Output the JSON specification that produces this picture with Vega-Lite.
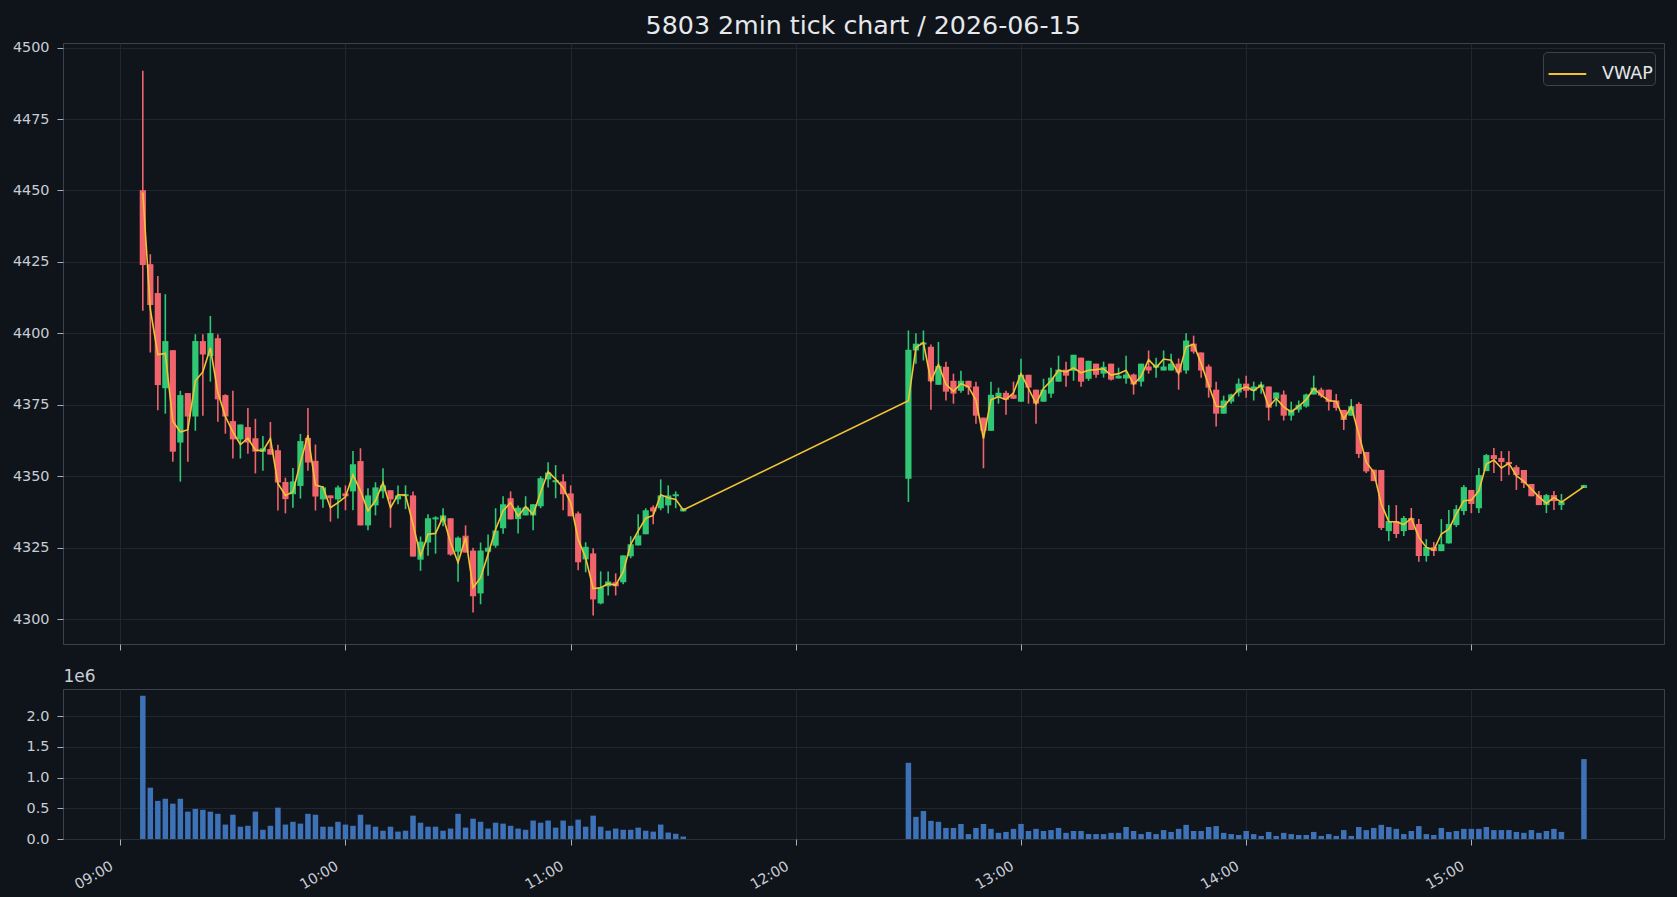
{
"$schema": "https://vega.github.io/schema/vega-lite/v6.json",
"background": "#0f131a",
"padding": {"left": 11, "top": 13, "right": 16, "bottom": 16},
"title": {"text": "5803 2min tick chart / 2026-06-15", "fontSize": 25.3, "fontWeight": "normal", "color": "#e6e8eb", "anchor": "middle", "offset": 0, "dx": 25},
"data": {"format": {"parse": {"t": "utc:'%Y-%m-%dT%H:%M'"}}, "values": [
{"t":"2026-06-15T09:06","o":4450.1,"h":4491.9,"l":4407.9,"c":4423.9,"w":4449.3,"v":2330000},
{"t":"2026-06-15T09:08","o":4424.2,"h":4427.7,"l":4393.3,"c":4409.9,"w":4408.5,"v":835000},
{"t":"2026-06-15T09:10","o":4414.1,"h":4420.1,"l":4373.1,"c":4381.9,"w":4392.6,"v":620000},
{"t":"2026-06-15T09:12","o":4380.8,"h":4413.7,"l":4371.9,"c":4397.3,"w":4393.0,"v":655000},
{"t":"2026-06-15T09:14","o":4394.1,"h":4394.1,"l":4355.1,"c":4358.6,"w":4369.3,"v":575000},
{"t":"2026-06-15T09:16","o":4361.8,"h":4379.9,"l":4348.1,"c":4378.4,"w":4365.5,"v":655000},
{"t":"2026-06-15T09:18","o":4379.1,"h":4379.1,"l":4355.1,"c":4370.9,"w":4366.3,"v":445000},
{"t":"2026-06-15T09:20","o":4370.9,"h":4399.7,"l":4365.9,"c":4397.3,"w":4383.4,"v":490000},
{"t":"2026-06-15T09:22","o":4397.3,"h":4399.7,"l":4371.2,"c":4392.6,"w":4386.5,"v":475000},
{"t":"2026-06-15T09:24","o":4392.1,"h":4406.1,"l":4383.1,"c":4400.1,"w":4394.9,"v":445000},
{"t":"2026-06-15T09:26","o":4398.3,"h":4399.7,"l":4369.1,"c":4376.9,"w":4379.3,"v":410000},
{"t":"2026-06-15T09:28","o":4378.4,"h":4378.7,"l":4364.9,"c":4370.9,"w":4370.9,"v":235000},
{"t":"2026-06-15T09:30","o":4369.3,"h":4379.9,"l":4356.2,"c":4362.9,"w":4365.5,"v":395000},
{"t":"2026-06-15T09:32","o":4362.9,"h":4368.1,"l":4356.2,"c":4368.1,"w":4361.1,"v":200000},
{"t":"2026-06-15T09:34","o":4367.2,"h":4373.9,"l":4357.9,"c":4361.8,"w":4363.3,"v":215000},
{"t":"2026-06-15T09:36","o":4363.3,"h":4370.1,"l":4351.0,"c":4358.6,"w":4359.2,"v":445000},
{"t":"2026-06-15T09:38","o":4358.6,"h":4364.1,"l":4351.9,"c":4359.8,"w":4358.9,"v":150000},
{"t":"2026-06-15T09:40","o":4359.5,"h":4369.0,"l":4357.6,"c":4357.6,"w":4363.2,"v":215000},
{"t":"2026-06-15T09:42","o":4359.1,"h":4361.0,"l":4338.0,"c":4347.8,"w":4347.5,"v":510000},
{"t":"2026-06-15T09:44","o":4348.0,"h":4349.5,"l":4337.0,"c":4342.0,"w":4343.3,"v":235000},
{"t":"2026-06-15T09:46","o":4343.7,"h":4352.9,"l":4339.0,"c":4348.2,"w":4344.5,"v":280000},
{"t":"2026-06-15T09:48","o":4346.6,"h":4364.8,"l":4342.2,"c":4362.3,"w":4354.8,"v":250000},
{"t":"2026-06-15T09:50","o":4363.4,"h":4373.9,"l":4351.9,"c":4354.8,"w":4364.4,"v":410000},
{"t":"2026-06-15T09:52","o":4355.4,"h":4361.1,"l":4338.0,"c":4342.9,"w":4346.9,"v":395000},
{"t":"2026-06-15T09:54","o":4341.9,"h":4346.6,"l":4339.0,"c":4346.1,"w":4346.2,"v":200000},
{"t":"2026-06-15T09:56","o":4343.3,"h":4343.3,"l":4334.1,"c":4342.3,"w":4339.0,"v":200000},
{"t":"2026-06-15T09:58","o":4341.9,"h":4346.8,"l":4335.2,"c":4346.1,"w":4340.8,"v":280000},
{"t":"2026-06-15T10:00","o":4344.0,"h":4346.8,"l":4338.1,"c":4343.0,"w":4342.8,"v":235000},
{"t":"2026-06-15T10:02","o":4344.7,"h":4358.8,"l":4338.1,"c":4354.2,"w":4350.5,"v":215000},
{"t":"2026-06-15T10:04","o":4355.3,"h":4359.8,"l":4332.8,"c":4332.8,"w":4344.9,"v":395000},
{"t":"2026-06-15T10:06","o":4332.8,"h":4345.8,"l":4331.1,"c":4343.3,"w":4337.9,"v":235000},
{"t":"2026-06-15T10:08","o":4339.8,"h":4347.9,"l":4336.3,"c":4346.1,"w":4341.4,"v":200000},
{"t":"2026-06-15T10:10","o":4344.7,"h":4352.8,"l":4342.3,"c":4346.8,"w":4347.8,"v":135000},
{"t":"2026-06-15T10:12","o":4345.1,"h":4345.1,"l":4332.0,"c":4341.9,"w":4339.0,"v":200000},
{"t":"2026-06-15T10:14","o":4341.9,"h":4346.8,"l":4340.2,"c":4343.3,"w":4343.5,"v":120000},
{"t":"2026-06-15T10:16","o":4343.0,"h":4346.8,"l":4338.5,"c":4343.7,"w":4343.4,"v":135000},
{"t":"2026-06-15T10:18","o":4343.3,"h":4344.7,"l":4321.9,"c":4321.9,"w":4333.2,"v":380000},
{"t":"2026-06-15T10:20","o":4320.8,"h":4328.9,"l":4316.9,"c":4327.1,"w":4322.1,"v":265000},
{"t":"2026-06-15T10:22","o":4326.8,"h":4336.7,"l":4322.2,"c":4335.3,"w":4329.7,"v":200000},
{"t":"2026-06-15T10:24","o":4334.9,"h":4336.0,"l":4322.9,"c":4335.6,"w":4330.0,"v":200000},
{"t":"2026-06-15T10:26","o":4334.1,"h":4338.8,"l":4332.5,"c":4336.3,"w":4335.8,"v":135000},
{"t":"2026-06-15T10:28","o":4335.3,"h":4335.3,"l":4322.2,"c":4322.6,"w":4326.8,"v":170000},
{"t":"2026-06-15T10:30","o":4323.6,"h":4328.9,"l":4313.1,"c":4328.5,"w":4319.8,"v":410000},
{"t":"2026-06-15T10:32","o":4329.2,"h":4332.8,"l":4323.3,"c":4323.3,"w":4328.5,"v":185000},
{"t":"2026-06-15T10:34","o":4324.0,"h":4325.0,"l":4302.3,"c":4308.0,"w":4311.0,"v":330000},
{"t":"2026-06-15T10:36","o":4309.0,"h":4326.8,"l":4305.2,"c":4324.0,"w":4314.5,"v":280000},
{"t":"2026-06-15T10:38","o":4323.6,"h":4329.6,"l":4315.2,"c":4325.0,"w":4322.7,"v":170000},
{"t":"2026-06-15T10:40","o":4325.7,"h":4338.8,"l":4325.0,"c":4331.0,"w":4331.4,"v":265000},
{"t":"2026-06-15T10:42","o":4331.8,"h":4343.0,"l":4329.9,"c":4340.2,"w":4337.9,"v":250000},
{"t":"2026-06-15T10:44","o":4342.3,"h":4344.7,"l":4334.9,"c":4334.9,"w":4340.8,"v":215000},
{"t":"2026-06-15T10:46","o":4335.0,"h":4339.8,"l":4330.0,"c":4339.0,"w":4336.0,"v":170000},
{"t":"2026-06-15T10:48","o":4336.3,"h":4343.0,"l":4336.3,"c":4339.1,"w":4339.4,"v":150000},
{"t":"2026-06-15T10:50","o":4336.3,"h":4340.2,"l":4331.1,"c":4340.2,"w":4336.6,"v":300000},
{"t":"2026-06-15T10:52","o":4339.5,"h":4350.0,"l":4338.8,"c":4349.3,"w":4344.3,"v":265000},
{"t":"2026-06-15T10:54","o":4348.9,"h":4354.9,"l":4346.1,"c":4351.3,"w":4351.6,"v":300000},
{"t":"2026-06-15T10:56","o":4347.9,"h":4353.9,"l":4342.3,"c":4348.6,"w":4349.0,"v":185000},
{"t":"2026-06-15T10:58","o":4348.2,"h":4350.7,"l":4338.1,"c":4343.7,"w":4346.0,"v":300000},
{"t":"2026-06-15T11:00","o":4344.0,"h":4346.8,"l":4336.0,"c":4336.0,"w":4340.8,"v":215000},
{"t":"2026-06-15T11:02","o":4337.0,"h":4337.7,"l":4317.1,"c":4319.9,"w":4327.9,"v":315000},
{"t":"2026-06-15T11:04","o":4320.9,"h":4326.9,"l":4316.4,"c":4325.3,"w":4321.5,"v":200000},
{"t":"2026-06-15T11:06","o":4323.0,"h":4324.8,"l":4301.3,"c":4306.9,"w":4310.7,"v":380000},
{"t":"2026-06-15T11:08","o":4305.5,"h":4316.7,"l":4305.2,"c":4311.1,"w":4311.0,"v":200000},
{"t":"2026-06-15T11:10","o":4311.5,"h":4316.7,"l":4308.3,"c":4313.2,"w":4312.4,"v":135000},
{"t":"2026-06-15T11:12","o":4312.9,"h":4316.0,"l":4308.3,"c":4311.5,"w":4311.9,"v":170000},
{"t":"2026-06-15T11:14","o":4312.9,"h":4322.3,"l":4312.2,"c":4322.3,"w":4316.5,"v":150000},
{"t":"2026-06-15T11:16","o":4322.0,"h":4329.0,"l":4321.3,"c":4326.2,"w":4326.2,"v":150000},
{"t":"2026-06-15T11:18","o":4325.8,"h":4336.7,"l":4325.8,"c":4329.3,"w":4330.9,"v":185000},
{"t":"2026-06-15T11:20","o":4329.7,"h":4338.8,"l":4329.7,"c":4338.1,"w":4335.3,"v":135000},
{"t":"2026-06-15T11:22","o":4339.1,"h":4339.8,"l":4333.2,"c":4337.7,"w":4336.3,"v":120000},
{"t":"2026-06-15T11:24","o":4338.8,"h":4348.9,"l":4338.1,"c":4343.3,"w":4343.5,"v":235000},
{"t":"2026-06-15T11:26","o":4339.8,"h":4346.8,"l":4337.0,"c":4343.3,"w":4342.5,"v":105000},
{"t":"2026-06-15T11:28","o":4343.0,"h":4344.7,"l":4338.8,"c":4343.7,"w":4341.9,"v":85000},
{"t":"2026-06-15T11:30","o":4337.7,"h":4338.8,"l":4337.7,"c":4338.8,"w":4338.2,"v":40000},
{"t":"2026-06-15T12:30","o":4349.1,"h":4401.0,"l":4341.0,"c":4394.3,"w":4376.4,"v":1240000},
{"t":"2026-06-15T12:32","o":4394.0,"h":4400.0,"l":4389.4,"c":4396.4,"w":4395.0,"v":360000},
{"t":"2026-06-15T12:34","o":4396.1,"h":4401.0,"l":4390.5,"c":4396.8,"w":4396.8,"v":455000},
{"t":"2026-06-15T12:36","o":4395.3,"h":4396.1,"l":4373.3,"c":4383.2,"w":4383.4,"v":295000},
{"t":"2026-06-15T12:38","o":4382.0,"h":4397.0,"l":4382.0,"c":4388.6,"w":4389.1,"v":280000},
{"t":"2026-06-15T12:40","o":4388.3,"h":4390.1,"l":4376.5,"c":4379.6,"w":4382.2,"v":180000},
{"t":"2026-06-15T12:42","o":4383.4,"h":4385.9,"l":4375.4,"c":4378.9,"w":4379.7,"v":180000},
{"t":"2026-06-15T12:44","o":4379.9,"h":4386.9,"l":4379.2,"c":4383.4,"w":4382.4,"v":245000},
{"t":"2026-06-15T12:46","o":4383.4,"h":4383.4,"l":4378.5,"c":4381.0,"w":4381.3,"v":80000},
{"t":"2026-06-15T12:48","o":4381.4,"h":4383.1,"l":4368.4,"c":4371.2,"w":4376.6,"v":180000},
{"t":"2026-06-15T12:50","o":4370.5,"h":4370.5,"l":4352.8,"c":4365.9,"w":4363.2,"v":245000},
{"t":"2026-06-15T12:52","o":4365.9,"h":4383.1,"l":4365.9,"c":4378.5,"w":4376.8,"v":165000},
{"t":"2026-06-15T12:54","o":4377.8,"h":4381.0,"l":4375.4,"c":4379.2,"w":4377.8,"v":100000},
{"t":"2026-06-15T12:56","o":4379.2,"h":4379.9,"l":4371.5,"c":4376.8,"w":4376.8,"v":115000},
{"t":"2026-06-15T12:58","o":4378.5,"h":4383.1,"l":4377.1,"c":4377.1,"w":4379.2,"v":165000},
{"t":"2026-06-15T13:00","o":4376.1,"h":4391.1,"l":4376.1,"c":4385.5,"w":4385.9,"v":245000},
{"t":"2026-06-15T13:02","o":4385.5,"h":4385.5,"l":4375.4,"c":4381.0,"w":4380.7,"v":130000},
{"t":"2026-06-15T13:04","o":4380.3,"h":4380.3,"l":4368.4,"c":4375.4,"w":4375.4,"v":165000},
{"t":"2026-06-15T13:06","o":4376.1,"h":4384.1,"l":4376.1,"c":4380.3,"w":4380.7,"v":130000},
{"t":"2026-06-15T13:08","o":4378.9,"h":4388.0,"l":4377.5,"c":4384.5,"w":4383.4,"v":145000},
{"t":"2026-06-15T13:10","o":4383.1,"h":4392.2,"l":4383.1,"c":4387.3,"w":4387.1,"v":180000},
{"t":"2026-06-15T13:12","o":4387.3,"h":4390.1,"l":4381.3,"c":4385.2,"w":4386.5,"v":100000},
{"t":"2026-06-15T13:14","o":4386.9,"h":4392.5,"l":4383.4,"c":4392.5,"w":4387.9,"v":130000},
{"t":"2026-06-15T13:16","o":4391.5,"h":4391.5,"l":4381.3,"c":4383.1,"w":4386.2,"v":130000},
{"t":"2026-06-15T13:18","o":4384.1,"h":4390.4,"l":4383.4,"c":4390.4,"w":4387.1,"v":80000},
{"t":"2026-06-15T13:20","o":4389.4,"h":4389.4,"l":4384.5,"c":4385.5,"w":4387.3,"v":80000},
{"t":"2026-06-15T13:22","o":4385.9,"h":4390.1,"l":4384.5,"c":4388.3,"w":4387.6,"v":80000},
{"t":"2026-06-15T13:24","o":4389.4,"h":4389.4,"l":4383.5,"c":4383.8,"w":4385.4,"v":100000},
{"t":"2026-06-15T13:26","o":4384.2,"h":4388.0,"l":4384.2,"c":4385.2,"w":4385.9,"v":100000},
{"t":"2026-06-15T13:28","o":4384.2,"h":4392.2,"l":4382.4,"c":4385.6,"w":4387.1,"v":195000},
{"t":"2026-06-15T13:30","o":4385.6,"h":4385.9,"l":4378.6,"c":4382.1,"w":4382.2,"v":130000},
{"t":"2026-06-15T13:32","o":4383.1,"h":4389.4,"l":4381.4,"c":4389.4,"w":4385.0,"v":80000},
{"t":"2026-06-15T13:34","o":4388.4,"h":4394.0,"l":4385.9,"c":4387.0,"w":4390.8,"v":115000},
{"t":"2026-06-15T13:36","o":4388.0,"h":4391.5,"l":4384.5,"c":4389.1,"w":4388.0,"v":80000},
{"t":"2026-06-15T13:38","o":4387.0,"h":4394.0,"l":4387.0,"c":4388.4,"w":4391.0,"v":145000},
{"t":"2026-06-15T13:40","o":4387.0,"h":4392.9,"l":4387.0,"c":4389.4,"w":4390.6,"v":115000},
{"t":"2026-06-15T13:42","o":4389.4,"h":4391.2,"l":4380.3,"c":4386.3,"w":4385.9,"v":165000},
{"t":"2026-06-15T13:44","o":4387.0,"h":4400.0,"l":4385.9,"c":4397.5,"w":4395.3,"v":230000},
{"t":"2026-06-15T13:46","o":4396.4,"h":4399.2,"l":4392.9,"c":4393.6,"w":4396.2,"v":130000},
{"t":"2026-06-15T13:48","o":4393.3,"h":4393.3,"l":4384.5,"c":4387.0,"w":4389.4,"v":130000},
{"t":"2026-06-15T13:50","o":4388.4,"h":4389.1,"l":4377.5,"c":4381.0,"w":4381.9,"v":195000},
{"t":"2026-06-15T13:52","o":4380.3,"h":4383.1,"l":4367.4,"c":4371.9,"w":4374.5,"v":210000},
{"t":"2026-06-15T13:54","o":4371.9,"h":4378.2,"l":4371.9,"c":4376.5,"w":4374.3,"v":100000},
{"t":"2026-06-15T13:56","o":4376.1,"h":4378.9,"l":4375.4,"c":4378.6,"w":4377.5,"v":80000},
{"t":"2026-06-15T13:58","o":4379.3,"h":4384.2,"l":4377.9,"c":4382.4,"w":4380.3,"v":65000},
{"t":"2026-06-15T14:00","o":4382.4,"h":4385.2,"l":4377.5,"c":4379.9,"w":4381.3,"v":130000},
{"t":"2026-06-15T14:02","o":4379.9,"h":4383.1,"l":4376.5,"c":4381.4,"w":4379.9,"v":80000},
{"t":"2026-06-15T14:04","o":4381.0,"h":4383.1,"l":4378.9,"c":4382.1,"w":4381.9,"v":50000},
{"t":"2026-06-15T14:06","o":4381.4,"h":4381.4,"l":4369.5,"c":4374.0,"w":4374.3,"v":115000},
{"t":"2026-06-15T14:08","o":4377.1,"h":4379.3,"l":4374.4,"c":4379.3,"w":4377.2,"v":50000},
{"t":"2026-06-15T14:10","o":4378.6,"h":4380.0,"l":4369.5,"c":4371.2,"w":4374.3,"v":100000},
{"t":"2026-06-15T14:12","o":4371.2,"h":4376.1,"l":4369.5,"c":4373.3,"w":4372.5,"v":80000},
{"t":"2026-06-15T14:14","o":4373.3,"h":4376.5,"l":4372.3,"c":4375.0,"w":4374.5,"v":65000},
{"t":"2026-06-15T14:16","o":4374.4,"h":4378.9,"l":4374.0,"c":4378.6,"w":4376.8,"v":65000},
{"t":"2026-06-15T14:18","o":4378.6,"h":4385.2,"l":4378.6,"c":4381.0,"w":4380.7,"v":115000},
{"t":"2026-06-15T14:20","o":4380.3,"h":4381.0,"l":4377.5,"c":4378.2,"w":4378.4,"v":50000},
{"t":"2026-06-15T14:22","o":4380.3,"h":4380.3,"l":4373.0,"c":4376.0,"w":4376.5,"v":80000},
{"t":"2026-06-15T14:24","o":4376.5,"h":4378.8,"l":4373.0,"c":4373.9,"w":4376.2,"v":50000},
{"t":"2026-06-15T14:26","o":4373.2,"h":4373.2,"l":4366.2,"c":4369.7,"w":4370.0,"v":145000},
{"t":"2026-06-15T14:28","o":4371.2,"h":4377.0,"l":4371.2,"c":4374.5,"w":4374.4,"v":50000},
{"t":"2026-06-15T14:30","o":4375.3,"h":4375.9,"l":4356.4,"c":4357.8,"w":4364.8,"v":195000},
{"t":"2026-06-15T14:32","o":4358.5,"h":4358.5,"l":4351.1,"c":4351.7,"w":4354.9,"v":145000},
{"t":"2026-06-15T14:34","o":4352.3,"h":4352.3,"l":4348.3,"c":4348.3,"w":4351.4,"v":180000},
{"t":"2026-06-15T14:36","o":4352.2,"h":4352.2,"l":4331.2,"c":4331.9,"w":4340.3,"v":230000},
{"t":"2026-06-15T14:38","o":4330.8,"h":4339.9,"l":4327.3,"c":4334.3,"w":4334.1,"v":195000},
{"t":"2026-06-15T14:40","o":4334.3,"h":4339.9,"l":4328.4,"c":4329.8,"w":4334.1,"v":165000},
{"t":"2026-06-15T14:42","o":4330.8,"h":4336.1,"l":4329.1,"c":4335.4,"w":4333.1,"v":80000},
{"t":"2026-06-15T14:44","o":4335.4,"h":4338.9,"l":4331.2,"c":4331.2,"w":4335.3,"v":130000},
{"t":"2026-06-15T14:46","o":4333.3,"h":4335.0,"l":4320.1,"c":4322.1,"w":4328.6,"v":210000},
{"t":"2026-06-15T14:48","o":4322.1,"h":4328.0,"l":4320.1,"c":4325.2,"w":4325.1,"v":80000},
{"t":"2026-06-15T14:50","o":4325.2,"h":4327.0,"l":4322.1,"c":4323.8,"w":4324.2,"v":65000},
{"t":"2026-06-15T14:52","o":4323.8,"h":4335.0,"l":4323.8,"c":4326.2,"w":4329.8,"v":180000},
{"t":"2026-06-15T14:54","o":4326.5,"h":4338.2,"l":4326.5,"c":4333.3,"w":4331.5,"v":115000},
{"t":"2026-06-15T14:56","o":4332.9,"h":4339.9,"l":4332.2,"c":4338.5,"w":4336.8,"v":130000},
{"t":"2026-06-15T14:58","o":4337.8,"h":4346.9,"l":4336.4,"c":4346.2,"w":4341.4,"v":165000},
{"t":"2026-06-15T15:00","o":4345.2,"h":4345.2,"l":4337.1,"c":4340.3,"w":4341.7,"v":165000},
{"t":"2026-06-15T15:02","o":4338.8,"h":4352.9,"l":4337.1,"c":4350.4,"w":4344.9,"v":165000},
{"t":"2026-06-15T15:04","o":4351.8,"h":4357.8,"l":4351.8,"c":4357.4,"w":4354.3,"v":195000},
{"t":"2026-06-15T15:06","o":4357.4,"h":4359.9,"l":4351.1,"c":4356.0,"w":4355.7,"v":145000},
{"t":"2026-06-15T15:08","o":4356.4,"h":4358.8,"l":4348.3,"c":4355.0,"w":4352.9,"v":145000},
{"t":"2026-06-15T15:10","o":4355.0,"h":4358.8,"l":4350.4,"c":4354.3,"w":4354.5,"v":145000},
{"t":"2026-06-15T15:12","o":4353.2,"h":4353.9,"l":4345.2,"c":4350.4,"w":4350.2,"v":115000},
{"t":"2026-06-15T15:14","o":4352.2,"h":4352.2,"l":4345.9,"c":4347.6,"w":4348.2,"v":100000},
{"t":"2026-06-15T15:16","o":4347.3,"h":4347.3,"l":4343.0,"c":4343.0,"w":4345.5,"v":145000},
{"t":"2026-06-15T15:18","o":4343.4,"h":4344.8,"l":4339.9,"c":4339.9,"w":4342.8,"v":100000},
{"t":"2026-06-15T15:20","o":4339.9,"h":4343.8,"l":4337.1,"c":4343.4,"w":4340.5,"v":130000},
{"t":"2026-06-15T15:22","o":4343.4,"h":4344.8,"l":4338.2,"c":4341.3,"w":4342.6,"v":165000},
{"t":"2026-06-15T15:24","o":4339.9,"h":4343.8,"l":4338.2,"c":4341.0,"w":4340.9,"v":115000},
{"t":"2026-06-15T15:30","o":4345.9,"h":4347.0,"l":4345.9,"c":4346.9,"w":4346.4,"v":1300000}
]},
"spacing": 15,
"vconcat": [
{
"width": 1601, "height": 601,
"layer": [
{"mark": {"type": "rule", "strokeWidth": 1.6},
 "encoding": {
  "x": {"field": "t", "type": "temporal", "scale": {"type": "utc", "domain": [1781513164000, 1781538600000]}, "axis": {"labels": false, "title": null, "tickCount": 7}},
  "y": {"field": "l", "type": "quantitative", "scale": {"domain": [4291.3, 4501.6], "nice": false, "zero": false}, "axis": {"title": null, "format": "d", "values": [4300, 4325, 4350, 4375, 4400, 4425, 4450, 4475, 4500]}},
  "y2": {"field": "h"},
  "color": {"condition": {"test": "datum.c >= datum.o", "value": "#2fc774"}, "value": "#f0646c"}
 }},
{"mark": {"type": "bar", "width": 6.2, "strokeWidth": 0.8},
 "encoding": {
  "x": {"field": "t", "type": "temporal"},
  "y": {"field": "o", "type": "quantitative"},
  "y2": {"field": "c"},
  "color": {"condition": {"test": "datum.c >= datum.o", "value": "#2fc774"}, "value": "#f0646c"}
 }},
{"mark": {"type": "line", "strokeWidth": 1.6},
 "encoding": {
  "x": {"field": "t", "type": "temporal"},
  "y": {"field": "w", "type": "quantitative"},
  "color": {"datum": "VWAP", "type": "nominal", "scale": {"domain": ["VWAP"], "range": ["#f2c335"]},
   "legend": {"title": null, "orient": "top-right", "offset": 9, "symbolType": "stroke", "symbolSize": 1420, "symbolStrokeWidth": 2, "symbolOffset": 2.4, "labelFontSize": 17.5, "labelColor": "#e6e8eb", "labelExpr": "datum.label + '   '", "fillColor": "#141920", "strokeColor": "#3b4350", "cornerRadius": 4, "padding": 2, "labelOffset": 14.6}}
 }}
]
},
{
"width": 1601, "height": 150,
"mark": {"type": "bar", "width": 5.5, "color": "#3e72b6"},
"encoding": {
 "x": {"field": "t", "type": "temporal", "scale": {"type": "utc", "domain": [1781513164000, 1781538600000]}, "axis": {"title": null, "format": "%H:%M", "tickCount": 7, "labelAngle": -30, "labelAlign": "right", "labelBaseline": "top", "labelOffset": -12, "labelPadding": 14}},
 "y": {"field": "v", "type": "quantitative", "scale": {"domain": [0, 2440000], "nice": false}, "axis": {"values": [0, 500000, 1000000, 1500000, 2000000], "labelExpr": "format(datum.value / 1000000, '.1f')", "title": "1e6", "titleAngle": 0, "titleX": 0, "titleY": -4, "titleAlign": "left", "titleBaseline": "bottom", "titleFontSize": 17, "titleFontWeight": "normal", "titleColor": "#c9ced6"}}
}
}
],
"config": {
 "font": "DejaVu Sans",
 "view": {"stroke": "#3a424d", "strokeWidth": 1, "fill": "#10141b"},
 "axis": {"domain": false, "grid": true, "gridColor": "#242a33", "gridWidth": 0.8, "tickColor": "#aab0b8", "tickSize": 6, "tickWidth": 1, "labelColor": "#c9ced6", "labelFontSize": 14.4, "labelPadding": 8}
}
}
